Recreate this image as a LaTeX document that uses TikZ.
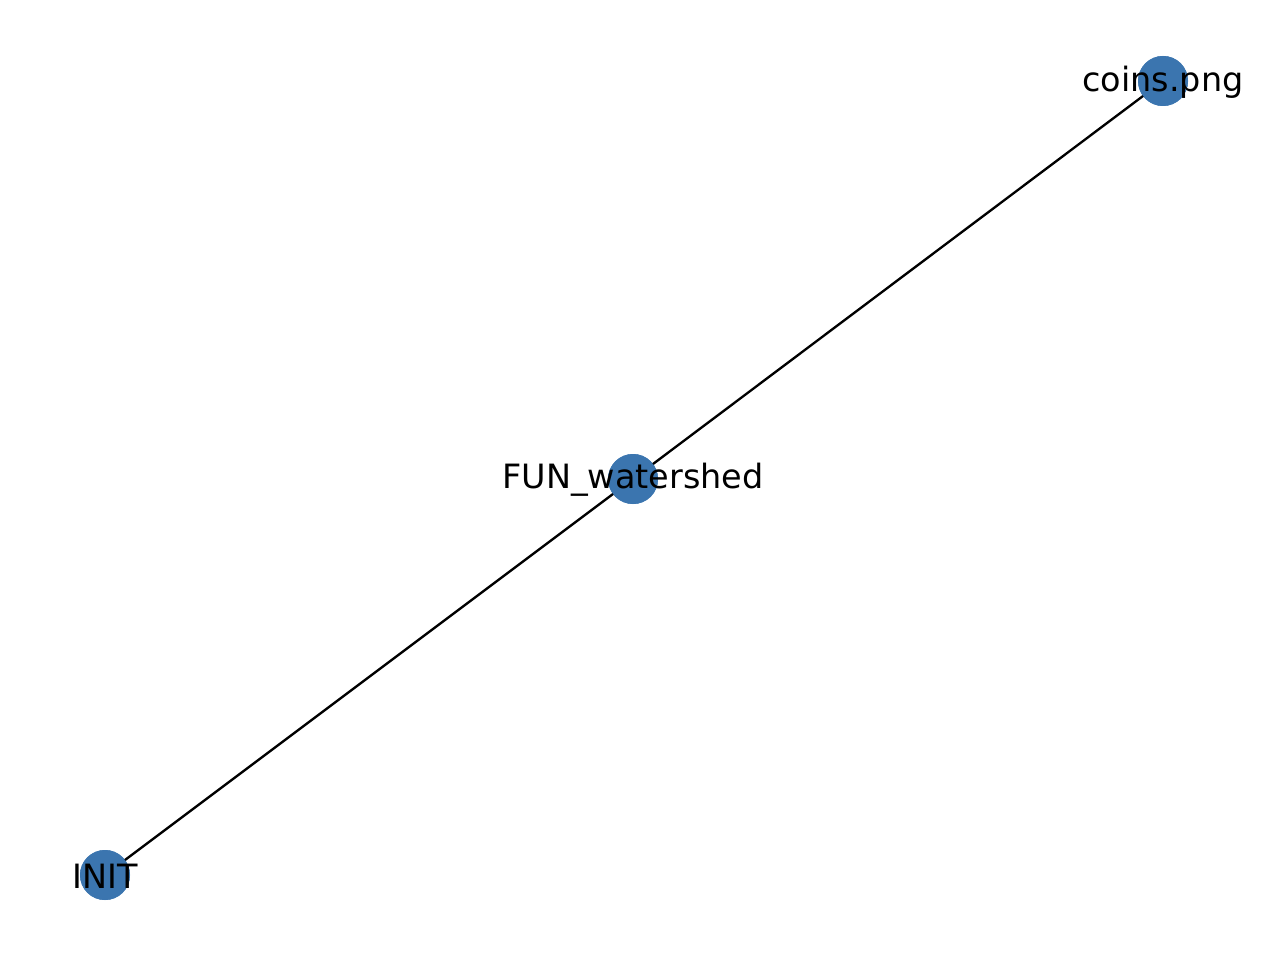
\documentclass[tikz,border=0pt]{standalone}
\usepackage{fontspec}
\setmainfont{DejaVu Sans}
\definecolor{nodeblue}{HTML}{3B75AF}
\begin{document}
\begin{tikzpicture}[x=0.3646pt,y=-0.3646pt,
  vertex/.style={circle,fill=nodeblue,draw=none,minimum size=50*0.3646pt,inner sep=0pt},
  lbl/.style={font=\fontsize{12.2}{14}\selectfont,inner sep=0pt,anchor=center},
  edge/.style={draw=black,line width=0.85pt}]
\useasboundingbox (0,0) rectangle (1264,954);
\node[vertex] (init) at (105,875) {};
\node[vertex] (fun) at (633,479) {};
\node[vertex] (coins) at (1163,81) {};
\path (init.center) edge[edge] (fun.center);
\path (fun.center) edge[edge] (coins.center);
\node[vertex] at (init) {};
\node[vertex] at (fun) {};
\node[vertex] at (coins) {};
\node[lbl] (tinit) at (105,876) {INIT};
\node[lbl] (tfun) at (633,480) {FUN\_watershed};
\node[lbl] (tcoins) at (1163,82) {coins.png};
\end{tikzpicture}
\end{document}
